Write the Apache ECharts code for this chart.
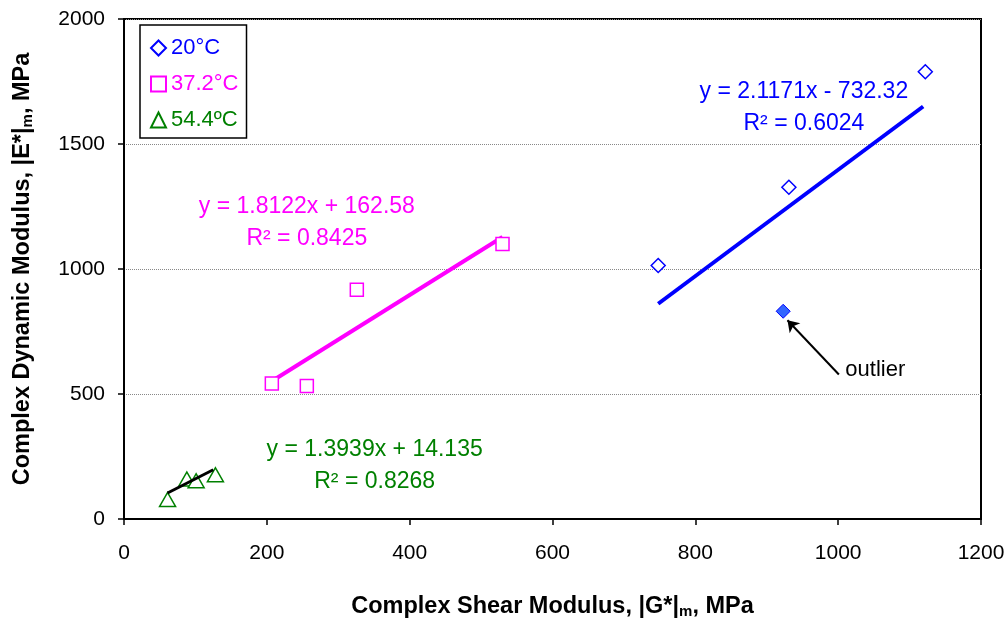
<!DOCTYPE html>
<html>
<head>
<meta charset="utf-8">
<script src="https://cdn.jsdelivr.net/npm/echarts@6/dist/echarts.min.js"></script>
<style>html,body{margin:0;padding:0;background:#fff}#c{width:1008px;height:624px}</style>
</head>
<body>
<div id="c"></div>
<script>
// ---- data ----
const seriesNames = ['20°C', '37.2°C', '54.4ºC'];
const pts20 = [[748, 1014], [931, 1327], [1122, 1789]];
const outlier20 = [[923, 831]];
const pts37 = [[207, 542], [256, 532], [326, 917], [530, 1100]];
const pts54 = [[61, 78], [88, 160], [101, 153], [128, 177]];
const trend20 = [[748, 861], [1119, 1650]];
const trend37 = [[209, 555], [530, 1128]];
const trend54 = [[61, 104], [125, 197]];
const eq20 = ['y = 2.1171x - 732.32', 'R² = 0.6024'];
const eq37 = ['y = 1.8122x + 162.58', 'R² = 0.8425'];
const eq54 = ['y = 1.3939x + 14.135', 'R² = 0.8268'];
const eq20Pos = [952, 1647];
const eq37Pos = [256, 1184];
const eq54Pos = [351, 215];
const arrowLine = [[1001, 578], [929, 795]];
const outlierText = 'outlier';
const outlierTextPos = [1010, 595];
const xTicks = { min: 0, max: 1200, interval: 200 };
const yTicks = { min: 0, max: 2000, interval: 500 };
const xTitle = 'Complex Shear Modulus, |G*|{sub|m}, MPa';
const yTitle = 'Complex Dynamic Modulus, |E*|{sub|m}, MPa';

const BLUE = '#0000ff', MAG = '#ff00ff', GREEN = '#008000';
const FONT = '"Liberation Sans", Arial, sans-serif';

function eqSeries(pos, lines, color) {
  return {
    type: 'scatter', data: [pos], symbolSize: 0, silent: true, z: 5,
    itemStyle: { opacity: 1 },
    label: {
      show: true, position: 'inside', formatter: lines.join('\n'),
      color: color, fontFamily: FONT, fontSize: 23, lineHeight: 32,
      align: 'center', verticalAlign: 'middle'
    }
  };
}

const chart = echarts.init(document.getElementById('c'), null, { renderer: 'canvas' });
chart.setOption({
  animation: false,
  backgroundColor: '#fff',
  grid: { left: 124, top: 19, right: 27, bottom: 103, show: true, borderColor: '#000', borderWidth: 2, backgroundColor: 'transparent' },
  legend: {
    orient: 'vertical', left: 140, top: 25,
    padding: [11, 8, 6, 10], itemGap: 12, itemWidth: 15, itemHeight: 15,
    borderColor: '#000', borderWidth: 1.5, backgroundColor: '#fff',
    textStyle: { fontFamily: FONT, fontSize: 22, lineHeight: 24 },
    selectedMode: false,
    data: [
      { name: seriesNames[0], textStyle: { color: BLUE } },
      { name: seriesNames[1], textStyle: { color: MAG } },
      { name: seriesNames[2], textStyle: { color: GREEN } }
    ]
  },
  xAxis: {
    type: 'value', min: xTicks.min, max: xTicks.max, interval: xTicks.interval,
    axisLine: { show: true, onZero: false, lineStyle: { color: '#000', width: 2 } },
    axisTick: { show: true, length: 6, lineStyle: { color: '#000', width: 1.5 } },
    axisLabel: { color: '#000', fontFamily: FONT, fontSize: 21, margin: 24, formatter: v => String(v) },
    splitLine: { show: false },
    name: xTitle, nameLocation: 'middle', nameGap: 75,
    nameTextStyle: { color: '#000', fontFamily: FONT, fontSize: 23.5, fontWeight: 'bold',
      rich: { sub: { fontSize: 15, fontWeight: 'bold', fontFamily: FONT, padding: [10, 0, 0, 0] } } }
  },
  yAxis: {
    type: 'value', min: yTicks.min, max: yTicks.max, interval: yTicks.interval,
    axisLine: { show: true, onZero: false, lineStyle: { color: '#000', width: 2 } },
    axisTick: { show: true, length: 6, lineStyle: { color: '#000', width: 1.5 } },
    axisLabel: { color: '#000', fontFamily: FONT, fontSize: 21, margin: 19, formatter: v => String(v) },
    splitLine: { show: true, lineStyle: { color: '#888', type: 'dotted', width: 1 } },
    name: yTitle, nameLocation: 'middle', nameGap: 89, nameRotate: 90,
    nameTextStyle: { color: '#000', fontFamily: FONT, fontSize: 23.5, fontWeight: 'bold',
      rich: { sub: { fontSize: 15, fontWeight: 'bold', fontFamily: FONT, padding: [10, 0, 0, 0] } } }
  },
  series: [
    { name: seriesNames[0], type: 'scatter', data: pts20, symbol: 'diamond', symbolSize: 14, z: 4,
      itemStyle: { color: '#fff', borderColor: BLUE, borderWidth: 1.5, opacity: 1 } },
    { name: seriesNames[1], type: 'scatter', data: pts37, symbol: 'rect', symbolSize: 13, z: 4,
      itemStyle: { color: '#fff', borderColor: MAG, borderWidth: 1.5, opacity: 1 } },
    { name: seriesNames[2], type: 'scatter', data: pts54, symbol: 'triangle', symbolSize: [16, 14], z: 4,
      itemStyle: { color: '#fff', borderColor: GREEN, borderWidth: 1.5, opacity: 1 } },
    { name: 'outlier', type: 'scatter', data: outlier20, symbol: 'diamond', symbolSize: 14, z: 4,
      itemStyle: { color: '#3366ff', borderColor: BLUE, borderWidth: 1, opacity: 1 } },
    { name: 'trend20', type: 'line', data: trend20, showSymbol: false, symbol: 'none', z: 3,
      lineStyle: { color: BLUE, width: 4 } },
    { name: 'trend37', type: 'line', data: trend37, showSymbol: false, symbol: 'none', z: 3,
      lineStyle: { color: MAG, width: 4 } },
    { name: 'trend54', type: 'line', data: trend54, showSymbol: false, symbol: 'none', z: 5,
      lineStyle: { color: '#000', width: 3 } },
    eqSeries(eq20Pos, eq20, BLUE),
    eqSeries(eq37Pos, eq37, MAG),
    eqSeries(eq54Pos, eq54, GREEN),
    { type: 'lines', coordinateSystem: 'cartesian2d', silent: true, z: 5,
      symbol: ['none', 'arrow'], symbolSize: 11,
      lineStyle: { color: '#000', width: 2, opacity: 1 },
      data: [{ coords: arrowLine }] },
    { type: 'scatter', data: [outlierTextPos], symbolSize: 0, silent: true, z: 5,
      itemStyle: { opacity: 1 },
      label: { show: true, position: 'inside', formatter: outlierText, color: '#000',
        fontFamily: FONT, fontSize: 22, align: 'left', verticalAlign: 'middle' } }
  ]
});
</script>
</body>
</html>
